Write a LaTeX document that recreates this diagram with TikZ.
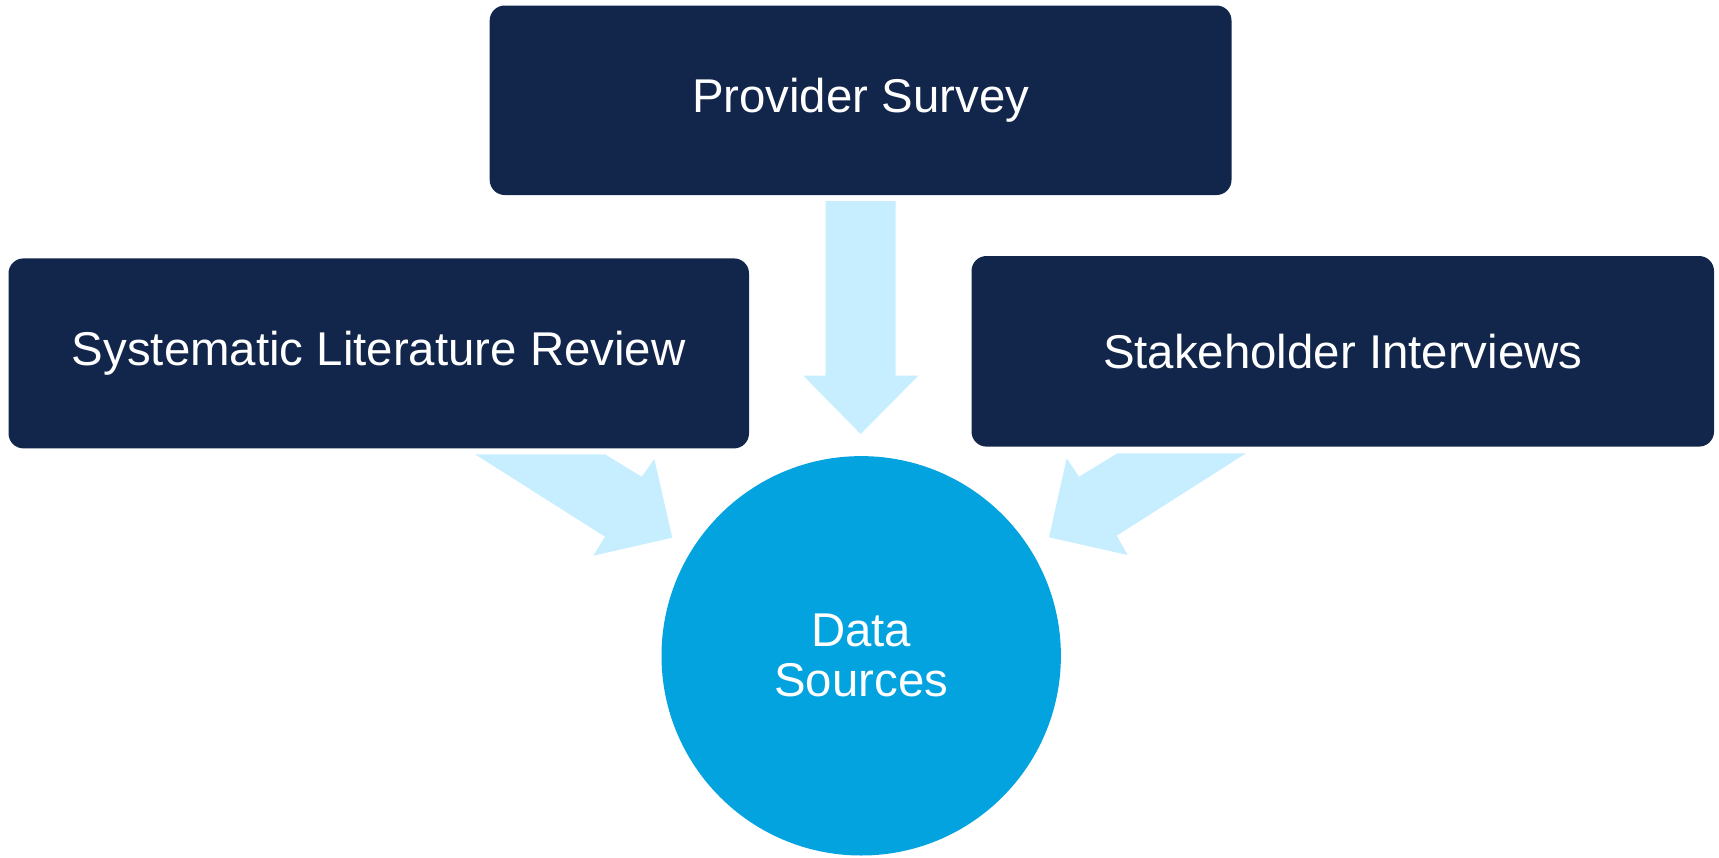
\documentclass[tikz,border=0pt]{standalone}
\usepackage{fontspec}
\setmainfont{Liberation Sans}
\definecolor{navy}{HTML}{12264B}
\definecolor{hubfill}{HTML}{02A3DF}
\definecolor{arrowfill}{HTML}{C7EEFE}
\begin{document}
\begin{tikzpicture}[x=0.5pt,y=-0.5pt,
  srcbox/.style={rectangle, rounded corners=7.5pt, fill=navy, text=white, inner sep=0pt,
    font=\fontsize{23.7}{25}\selectfont},
  hub/.style={circle, fill=hubfill, text=white, inner sep=0pt, minimum size=199.7pt,
    align=center, font=\fontsize{23.7}{25}\selectfont},
  blockarrow/.style={fill=arrowfill, draw=none}]
\useasboundingbox (0,0) rectangle (1719,857);

% block arrows
\coordinate (dtip) at (860.7,434);
\fill[blockarrow] (825.7,201) -- (895.7,201) -- (895.7,375.7) -- (918.3,375.7) -- (dtip)
  -- (803.3,375.7) -- (825.7,375.7) -- cycle;
\coordinate (ltip) at (672.3,537.7);
\fill[blockarrow] (475,454.3) -- (605,454.3) -- (641.7,476.7) -- (654.3,459) -- (ltip)
  -- (593.3,555.7) -- (605,536.7) -- cycle;
\coordinate (rtip) at (1049,537.3);
\fill[blockarrow] (1246,453.3) -- (1117.3,453.3) -- (1079,476.7) -- (1066.7,458.3) -- (rtip)
  -- (1127.7,555) -- (1116.7,535.7) -- cycle;

% boxes
\node[srcbox, minimum width=370.9pt, minimum height=94.75pt] (survey) at (860.6,100.25) {Provider Survey};
\node[srcbox, minimum width=370.25pt, minimum height=95pt] (review) at (378.75,353.4) {Systematic Literature Review};
\node[srcbox, minimum width=371.25pt, minimum height=95.3pt] (interviews) at (1342.75,351.3) {Stakeholder Interviews};

% hub
\node[hub] (data) at (861.2,655.8) {Data\\Sources};
\end{tikzpicture}
\end{document}
